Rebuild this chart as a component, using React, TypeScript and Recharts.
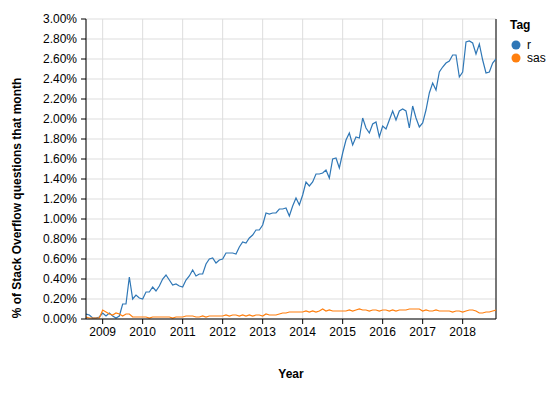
import React from 'react';
import { LineChart, Line, XAxis, YAxis, CartesianGrid, ReferenceLine } from 'recharts';

// monthly share of Stack Overflow questions (%), Aug 2008 .. Nov 2018
const START_YEAR = 2008;
const START_MONTH = 8;

const rValues = [
    0.05, 0.04, 0.01, 0.01, 0.02, // 2008
    0.06, 0.03, 0.06, 0.03, 0.01, 0.03, 0.15, 0.15, 0.42, 0.20, 0.24, 0.21, // 2009
    0.20, 0.27, 0.27, 0.32, 0.28, 0.33, 0.40, 0.44, 0.39, 0.34, 0.35, 0.33, // 2010
    0.32, 0.39, 0.43, 0.49, 0.43, 0.45, 0.45, 0.55, 0.60, 0.61, 0.56, 0.59, // 2011
    0.60, 0.66, 0.66, 0.66, 0.65, 0.72, 0.77, 0.76, 0.81, 0.84, 0.89, 0.89, // 2012
    0.94, 1.06, 1.05, 1.06, 1.06, 1.10, 1.10, 1.11, 1.03, 1.13, 1.21, 1.14, // 2013
    1.24, 1.37, 1.33, 1.37, 1.45, 1.45, 1.46, 1.49, 1.41, 1.60, 1.61, 1.51, // 2014
    1.66, 1.79, 1.86, 1.74, 1.82, 1.81, 2.01, 1.91, 1.86, 1.95, 1.97, 1.82, // 2015
    1.93, 1.90, 1.99, 2.08, 1.99, 2.08, 2.10, 2.08, 1.91, 2.13, 2.01, 1.92, // 2016
    1.96, 2.09, 2.26, 2.36, 2.29, 2.47, 2.52, 2.56, 2.58, 2.64, 2.64, 2.42, // 2017
    2.47, 2.77, 2.78, 2.76, 2.65, 2.75, 2.59, 2.46, 2.47, 2.56, 2.60, // 2018
];

const sasValues = [
    0.02, 0.01, 0.01, 0.01, 0.01, // 2008
    0.09, 0.07, 0.05, 0.04, 0.06, 0.05, 0.03, 0.05, 0.05, 0.02, 0.02, 0.02, // 2009
    0.02, 0.02, 0.01, 0.02, 0.02, 0.02, 0.02, 0.02, 0.02, 0.01, 0.02, 0.02, // 2010
    0.02, 0.03, 0.03, 0.03, 0.02, 0.02, 0.03, 0.02, 0.03, 0.03, 0.03, 0.03, // 2011
    0.03, 0.04, 0.03, 0.04, 0.04, 0.03, 0.04, 0.03, 0.04, 0.03, 0.04, 0.04, // 2012
    0.03, 0.05, 0.04, 0.04, 0.04, 0.05, 0.06, 0.06, 0.07, 0.07, 0.07, 0.07, // 2013
    0.07, 0.08, 0.07, 0.08, 0.07, 0.08, 0.10, 0.08, 0.09, 0.08, 0.08, 0.08, // 2014
    0.08, 0.08, 0.09, 0.08, 0.09, 0.10, 0.09, 0.09, 0.08, 0.09, 0.09, 0.08, // 2015
    0.09, 0.09, 0.08, 0.09, 0.08, 0.09, 0.09, 0.09, 0.10, 0.10, 0.10, 0.10, // 2016
    0.08, 0.09, 0.08, 0.08, 0.09, 0.08, 0.08, 0.08, 0.08, 0.07, 0.08, 0.08, // 2017
    0.07, 0.08, 0.09, 0.09, 0.08, 0.06, 0.06, 0.07, 0.07, 0.08, 0.09, // 2018
];

const yearTicks = [2009, 2010, 2011, 2012, 2013, 2014, 2015, 2016, 2017, 2018];
const percentTicks = [0, 0.2, 0.4, 0.6, 0.8, 1.0, 1.2, 1.4, 1.6, 1.8, 2.0, 2.2, 2.4, 2.6, 2.8, 3.0];
const tags = ['r', 'sas'];
const tagColors = ['#2f77b6', '#ff7f0e'];

const data = rValues.map((r, i) => ({
    t: START_YEAR + (START_MONTH - 1 + i) / 12,
    r,
    sas: sasValues[i],
}));

const FONT = '"Liberation Sans", Arial, sans-serif';
const tickStyle = { fontSize: 12, fill: '#000', fontFamily: FONT };

const App: React.FC = () => {
    const tMin = data[0].t;
    const tMax = data[data.length - 1].t;
    return (
        <div style={{ position: 'absolute', left: 0, top: 0, width: 554, height: 397, background: '#fff' }}>
            <LineChart width={554} height={397} data={data} margin={{ top: 19, right: 58, bottom: 48, left: 10 }}>
                <CartesianGrid stroke="#ddd" strokeWidth={1} />
                <XAxis
                    type="number"
                    dataKey="t"
                    domain={[tMin, tMax]}
                    ticks={yearTicks}
                    interval={0}
                    tickFormatter={(v: number) => String(v)}
                    height={30}
                    tickSize={5}
                    tickMargin={3}
                    stroke="#000"
                    tick={tickStyle}
                    allowDataOverflow
                />
                <YAxis
                    type="number"
                    domain={[0, 3]}
                    ticks={percentTicks}
                    interval={0}
                    tickFormatter={(v: number) => v.toFixed(2) + '%'}
                    width={76}
                    tickSize={5}
                    tickMargin={4}
                    stroke="#000"
                    tick={tickStyle}
                />
                <ReferenceLine x={tMax} stroke="#000" strokeWidth={1} />
                {tags.map((tag, i) => (
                    <Line
                        key={tag}
                        type="linear"
                        dataKey={tag}
                        stroke={tagColors[i]}
                        strokeWidth={1.2}
                        dot={false}
                        isAnimationActive={false}
                    />
                ))}
            </LineChart>
            <svg width={554} height={397} style={{ position: 'absolute', left: 0, top: 0, pointerEvents: 'none' }}>
                <text
                    x={21}
                    y={198}
                    transform="rotate(-90 21 198)"
                    textAnchor="middle"
                    fontFamily={FONT}
                    fontSize={12}
                    fontWeight="bold"
                    fill="#000"
                >
                    % of Stack Overflow questions that month
                </text>
                <text x={291} y={378} textAnchor="middle" fontFamily={FONT} fontSize={12} fontWeight="bold" fill="#000">
                    Year
                </text>
                <text x={510} y={29} fontFamily={FONT} fontSize={12} fontWeight="bold" fill="#000">
                    Tag
                </text>
                {tags.map((tag, i) => (
                    <g key={tag}>
                        <circle cx={516} cy={45 + i * 13} r={4.5} fill={tagColors[i]} />
                        <text x={527} y={49 + i * 13} fontFamily={FONT} fontSize={12} fill="#000">
                            {tag}
                        </text>
                    </g>
                ))}
            </svg>
        </div>
    );
};

export default App;
